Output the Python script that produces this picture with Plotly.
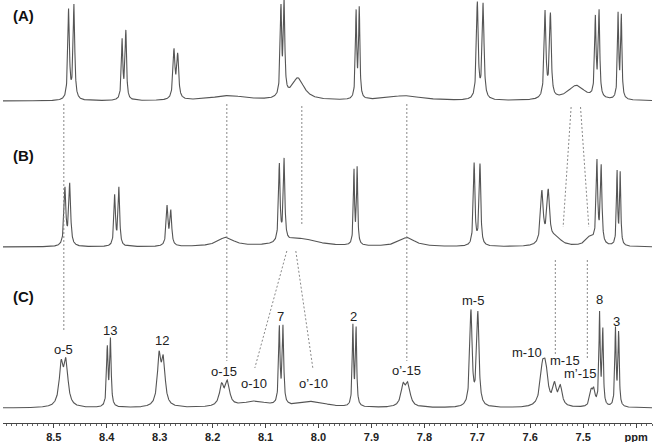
import numpy as np
import plotly.graph_objects as go

# ---------------- data: peak lists ----------------
# spectrum (A)
A_shift = [8.472, 8.462, 8.371, 8.364, 8.273, 8.266, 8.170, 8.071, 8.065, 8.039,
           7.929, 7.923, 7.838, 7.700, 7.689, 7.572, 7.562, 7.513, 7.477, 7.470,
           7.434, 7.428]
A_int = [90, 94, 59, 68, 48, 43, 5, 87, 92, 22,
         86, 89, 5, 96, 95, 86, 83, 15, 78, 85,
         84, 82]
A_hw = [0.0018, 0.0018, 0.0016, 0.0016, 0.0022, 0.0022, 0.040, 0.0016, 0.0016, 0.014,
        0.0014, 0.0014, 0.040, 0.0020, 0.0020, 0.0020, 0.0020, 0.020, 0.0016, 0.0016,
        0.0014, 0.0014]

# spectrum (B)
B_shift = [8.479, 8.470, 8.385, 8.377, 8.286, 8.279, 8.175, 8.074, 8.065, 8.035,
           7.933, 7.927, 7.833, 7.706, 7.695, 7.578, 7.566, 7.552, 7.487, 7.474,
           7.466, 7.436, 7.430]
B_int = [57, 61, 50, 58, 39, 34, 9, 77, 81, 8,
         74, 76, 9, 82, 81, 52, 51, 9, 9, 81,
         77, 73, 72]
B_hw = [0.0021, 0.0021, 0.0017, 0.0017, 0.0020, 0.0020, 0.018, 0.0017, 0.0017, 0.040,
        0.0013, 0.0013, 0.018, 0.0018, 0.0018, 0.0030, 0.0030, 0.012, 0.010, 0.0017,
        0.0017, 0.0013, 0.0013]

# spectrum (C)
C_shift = [8.486, 8.477, 8.399, 8.393, 8.301, 8.293, 8.183, 8.172, 8.120, 8.074,
           8.067, 8.010, 7.935, 7.929, 7.840, 7.831, 7.712, 7.699, 7.577, 7.571,
           7.554, 7.543, 7.485, 7.480, 7.469, 7.463, 7.439, 7.433]
C_int = [40, 42, 58, 66, 48, 43, 20, 23, 6, 76,
         77, 6, 79, 77, 20, 21, 95, 93, 33, 33,
         20, 19, 14, 15, 91, 75, 77, 73]
C_hw = [0.0045, 0.0045, 0.0016, 0.0016, 0.0040, 0.0040, 0.0048, 0.0048, 0.030, 0.0016,
        0.0016, 0.030, 0.0014, 0.0014, 0.0050, 0.0050, 0.0026, 0.0026, 0.0050, 0.0050,
        0.0040, 0.0040, 0.0030, 0.0030, 0.0014, 0.0014, 0.0014, 0.0014]

# peak assignments for spectrum (C)
lab_text = ["o-5", "13", "12", "o-15", "o-10", "7", "o\u2019-10", "2", "o\u2019-15",
            "m-5", "m-10", "m-15", "m\u2019-15", "8", "3"]
lab_ppm = [8.481, 8.394, 8.296, 8.179, 8.122, 8.071, 8.010, 7.933, 7.833,
           7.708, 7.606, 7.535, 7.506, 7.470, 7.438]

tick_vals = [8.5, 8.4, 8.3, 8.2, 8.1, 8.0, 7.9, 7.8, 7.7, 7.6, 7.5, 7.4]
tick_text = ["8.5", "8.4", "8.3", "8.2", "8.1", "8.0", "7.9", "7.8", "7.7", "7.6", "7.5", "ppm"]

# ---------------- layout / drawing ----------------
W, H = 654, 442
ML, MR, MT, MB = 3, 2, 0, 19
PH = H - MT - MB          # plot height in px; y units == px
XMAX, XMIN = 8.596, 7.370

ppm = np.linspace(XMIN, XMAX, 4000)


def spectrum(shifts, ints, hws):
    y = np.zeros_like(ppm)
    for s, a, w in zip(shifts, ints, hws):
        y += a / (1.0 + ((ppm - s) / w) ** 2)
    return y


def py(pix):
    """pixel row -> y data value"""
    return PH - pix


offsets = {"A": py(101), "B": py(247), "C": py(408)}
line_col = "#555555"

fig = go.Figure()
for key, (s, a, w) in {"A": (A_shift, A_int, A_hw),
                       "B": (B_shift, B_int, B_hw),
                       "C": (C_shift, C_int, C_hw)}.items():
    fig.add_trace(go.Scatter(x=ppm, y=spectrum(s, a, w) + offsets[key], mode="lines",
                             line=dict(color=line_col, width=1.1), hoverinfo="skip",
                             showlegend=False))

# dashed guide lines (ppm, pixel-row)
def ppx(xpix):
    return 8.5 - (xpix - 54) / 529.36

guides = [
    ((64, 104), (64, 330)),
    ((227, 104), (227, 361)),
    ((407, 104), (407, 361)),
    ((302, 106), (302, 226)),
    ((571.3, 107), (563.3, 227)),
    ((580.7, 107), (589, 227)),
    ((555.5, 260), (555.5, 356)),
    ((587.5, 260), (587.5, 360)),
    ((287, 251), (255, 368)),
    ((296, 251), (313, 368)),
]
for (x0, y0), (x1, y1) in guides:
    fig.add_shape(type="line", xref="x", yref="y", x0=ppx(x0), y0=py(y0),
                  x1=ppx(x1), y1=py(y1),
                  line=dict(color="#7a7a7a", width=0.9, dash="2px,2px"))

# peak labels
lab_row = [349, 330, 340, 371, 383, 316, 383, 316, 370, 300, 352, 360, 373, 299, 321]
for t, x, r in zip(lab_text, lab_ppm, lab_row):
    fig.add_annotation(x=x, y=py(r), text=t, showarrow=False, xref="x", yref="y",
                       font=dict(family="Liberation Sans, Arial", size=13, color="#222222"))

for t, r in [("(A)", 15), ("(B)", 155), ("(C)", 296)]:
    fig.add_annotation(x=ppx(23.5), y=py(r), text=t, showarrow=False, xref="x", yref="y",
                       font=dict(family="Liberation Sans, Arial", size=15, color="#111111",
                                 weight="bold"))

fig.update_layout(
    width=W, height=H, margin=dict(l=ML, r=MR, t=MT, b=MB, pad=0),
    plot_bgcolor="white", paper_bgcolor="white",
    xaxis=dict(range=[XMAX, XMIN], showgrid=False, zeroline=False, showline=True,
               linecolor="#444444", linewidth=1, ticks="outside", ticklen=4,
               tickcolor="#444444", tickwidth=1, tickmode="array",
               tickvals=tick_vals, ticktext=tick_text,
               tickfont=dict(family="Liberation Sans, Arial", size=11, color="#222222",
                             weight="bold"),
               minor=dict(tickmode="linear", tick0=0, dtick=0.01, ticks="outside",
                          ticklen=2, tickcolor="#666666", tickwidth=0.8, showgrid=False)),
    yaxis=dict(range=[0, PH], visible=False, showgrid=False, zeroline=False),
)

fig.write_html("out.html")
